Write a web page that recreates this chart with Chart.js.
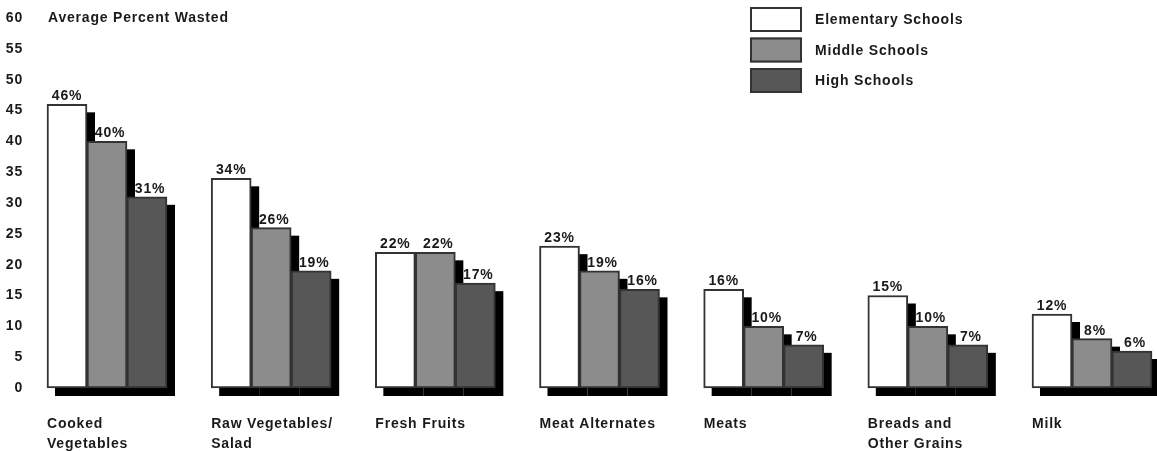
<!DOCTYPE html>
<html>
<head>
<meta charset="utf-8">
<script src="https://cdn.jsdelivr.net/npm/chart.js@4"></script>
<style>
  html, body { margin: 0; padding: 0; background: #fff; overflow: hidden; }
</style>
</head>
<body>
<canvas id="chart" width="1157" height="451"></canvas>
<script>
const categories = [
  ['Cooked', 'Vegetables'],
  ['Raw Vegetables/', 'Salad'],
  'Fresh Fruits',
  'Meat Alternates',
  'Meats',
  ['Breads and', 'Other Grains'],
  'Milk'
]
const seriesNames = ['Elementary Schools', 'Middle Schools', 'High Schools']
const elementary = [46, 34, 22, 23, 16, 15, 12]
const middle = [40, 26, 22, 19, 10, 10, 8]
const high = [31, 19, 17, 16, 7, 7, 6]
const yMax = 60
const yStep = 5
const yTitle = 'Average Percent Wasted'

const COLORS = {
  elementary: '#ffffff',
  middle: '#8c8c8c',
  high: '#575757',
  border: '#333333',
  shadow: '#000000',
  text: '#1a1a1a'
}
const FAMILY = '"Liberation Sans", Arial, Helvetica, sans-serif'
const BAR = 40
const SHADOW = 8

const spacing = {
  id: 'spacing',
  beforeDraw(chart) {
    chart.ctx.letterSpacing = '0.8px'
  }
}

// black drop shadow behind every bar
const dropShadow = {
  id: 'dropShadow',
  beforeDatasetsDraw(chart) {
    const ctx = chart.ctx
    ctx.save()
    ctx.fillStyle = COLORS.shadow
    chart.data.datasets.forEach((ds, i) => {
      chart.getDatasetMeta(i).data.forEach(bar => {
        const { x, y, base, width } = bar.getProps(['x', 'y', 'base', 'width'], true)
        ctx.fillRect(x - width / 2 + SHADOW, y + SHADOW, width, base - y)
      })
    })
    ctx.restore()
  }
}

const valueLabels = {
  id: 'valueLabels',
  afterDatasetsDraw(chart) {
    const ctx = chart.ctx
    ctx.save()
    ctx.font = 'bold 14px ' + FAMILY
    ctx.fillStyle = COLORS.text
    ctx.textAlign = 'center'
    ctx.textBaseline = 'bottom'
    chart.data.datasets.forEach((ds, i) => {
      chart.getDatasetMeta(i).data.forEach((bar, j) => {
        // labels over the grey bars sit a little right, clear of the shadow
        const nudge = i === 0 ? 0 : 3
        ctx.fillText(ds.data[j] + '%', bar.x + nudge, bar.y - 1)
      })
    })
    ctx.restore()
  }
}

const titleAndLegend = {
  id: 'titleAndLegend',
  afterDraw(chart) {
    const ctx = chart.ctx
    const first = chart.getDatasetMeta(0).data[0]
    ctx.save()
    ctx.font = 'bold 14px ' + FAMILY
    ctx.fillStyle = COLORS.text
    ctx.textBaseline = 'middle'
    ctx.fillText(yTitle, first.x - first.width / 2 + 1, chart.scales.y.getPixelForValue(yMax))

    const left = 750, top = 7, w = 52, h = 25, step = 30.5
    chart.data.datasets.forEach((ds, i) => {
      const y = top + i * step
      ctx.fillStyle = ds.backgroundColor
      ctx.fillRect(left, y, w, h)
      ctx.lineWidth = 2
      ctx.strokeStyle = COLORS.border
      ctx.strokeRect(left + 1, y + 1, w - 2, h - 2)
      ctx.fillStyle = COLORS.text
      ctx.fillText(ds.label, left + w + 13, y + h / 2 + 1)
    })
    ctx.restore()
  }
}

const makeSet = (label, data, color) => ({
  label,
  data,
  backgroundColor: color,
  borderColor: COLORS.border,
  borderWidth: 2,
  borderSkipped: false,
  barThickness: BAR,
  clip: false
})

new Chart(document.getElementById('chart'), {
  type: 'bar',
  data: {
    labels: categories,
    datasets: [
      makeSet(seriesNames[0], elementary, COLORS.elementary),
      makeSet(seriesNames[1], middle, COLORS.middle),
      makeSet(seriesNames[2], high, COLORS.high)
    ]
  },
  options: {
    responsive: false,
    animation: false,
    layout: { padding: { top: 18, right: 65, left: 0, bottom: 0 } },
    plugins: {
      legend: { display: false },
      tooltip: { enabled: false }
    },
    scales: {
      x: {
        offset: false,
        grid: { display: false, drawTicks: false },
        border: { display: false },
        ticks: {
          autoSkip: false,
          maxRotation: 0,
          align: 'start',
          labelOffset: -BAR * 1.5,
          padding: 26,
          color: COLORS.text,
          font: { family: FAMILY, size: 14, weight: 'bold', lineHeight: 1.45 }
        },
        afterFit(scale) { scale.height = 63 }
      },
      y: {
        min: 0,
        max: yMax,
        grid: { display: false, drawTicks: false },
        border: { display: false },
        ticks: {
          stepSize: yStep,
          padding: 84,
          color: COLORS.text,
          font: { family: FAMILY, size: 14, weight: 'bold' }
        },
        // tick padding pushes labels far left; keep it from padding the top/bottom too
        afterFit(scale) {
          scale.width = 107
          scale.paddingTop = 0
          scale.paddingBottom = 0
        }
      }
    }
  },
  plugins: [spacing, dropShadow, valueLabels, titleAndLegend]
})
</script>
</body>
</html>
